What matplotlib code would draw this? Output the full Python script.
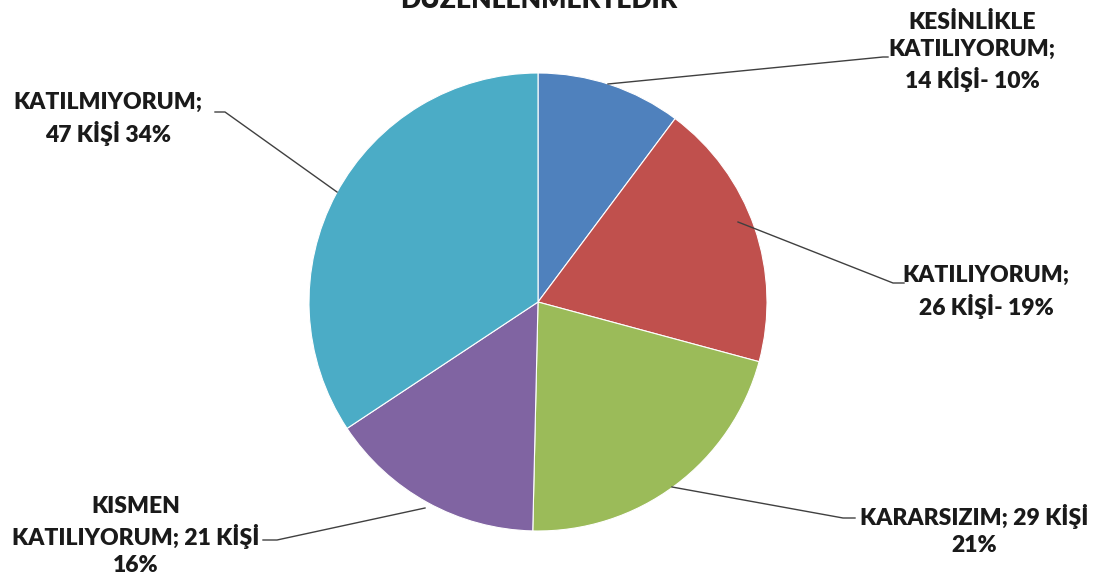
import numpy as np
import matplotlib.pyplot as plt

plt.rcParams['font.family'] = ['Lato', 'DejaVu Sans']

labels = ['KESİNLİKLE\nKATILIYORUM;\n14 KİŞİ- 10%',
          'KATILIYORUM;\n26 KİŞİ- 19%',
          'KARARSIZIM; 29 KİŞİ\n21%',
          'KISMEN\nKATILIYORUM; 21 KİŞİ\n16%',
          'KATILMIYORUM;\n47 KİŞİ 34%']
values = [14, 26, 29, 21, 47]
colors = ['#4F81BD', '#C0504D', '#9BBB59', '#8064A2', '#4BACC6']
title = 'DÜZENLENMEKTEDİR'

W, H = 1096, 582
fig = plt.figure(figsize=(W / 100, H / 100), dpi=100)
ax = fig.add_axes([0, 0, 1, 1])
ax.set_xlim(0, W)
ax.set_ylim(0, H)
ax.set_aspect('equal')
ax.axis('off')

cx, cy, r = 538, H - 302, 229
wedges, _ = ax.pie(values, startangle=90, counterclock=False, colors=colors,
                   center=(cx, cy), radius=r,
                   wedgeprops=dict(edgecolor='white', linewidth=0.8))
ax.set_xlim(0, W)
ax.set_ylim(0, H)

# leader line points (pie side, elbow, end) and text anchor, in pixel coords from top
leaders = [
    [(608, 84), (883, 57), (888, 57)],
    [(738, 222), (893, 283), (904, 283)],
    [(672, 487), (843, 518), (855, 518)],
    [(425, 508), (277, 540), (263, 540)],
    [(337, 192), (225, 112), (215, 112)],
]
text_pos = [(972, 52), (986, 292), (974, 530), (136, 536), (108, 119)]

for pts, (tx, ty), lab in zip(leaders, text_pos, labels):
    xs = [p[0] for p in pts]
    ys = [H - p[1] for p in pts]
    ax.plot(xs, ys, color='#404040', linewidth=1)
    ax.text(tx, H - ty, lab, ha='center', va='center', multialignment='center',
            fontsize=16.5, fontweight='heavy', color='#1a1a1a', linespacing=1.35)

ax.text(539, H - 8, title, ha='center', va='baseline', fontsize=19,
        fontweight='heavy', color='#1a1a1a')

fig.savefig('out.png', dpi=100)
